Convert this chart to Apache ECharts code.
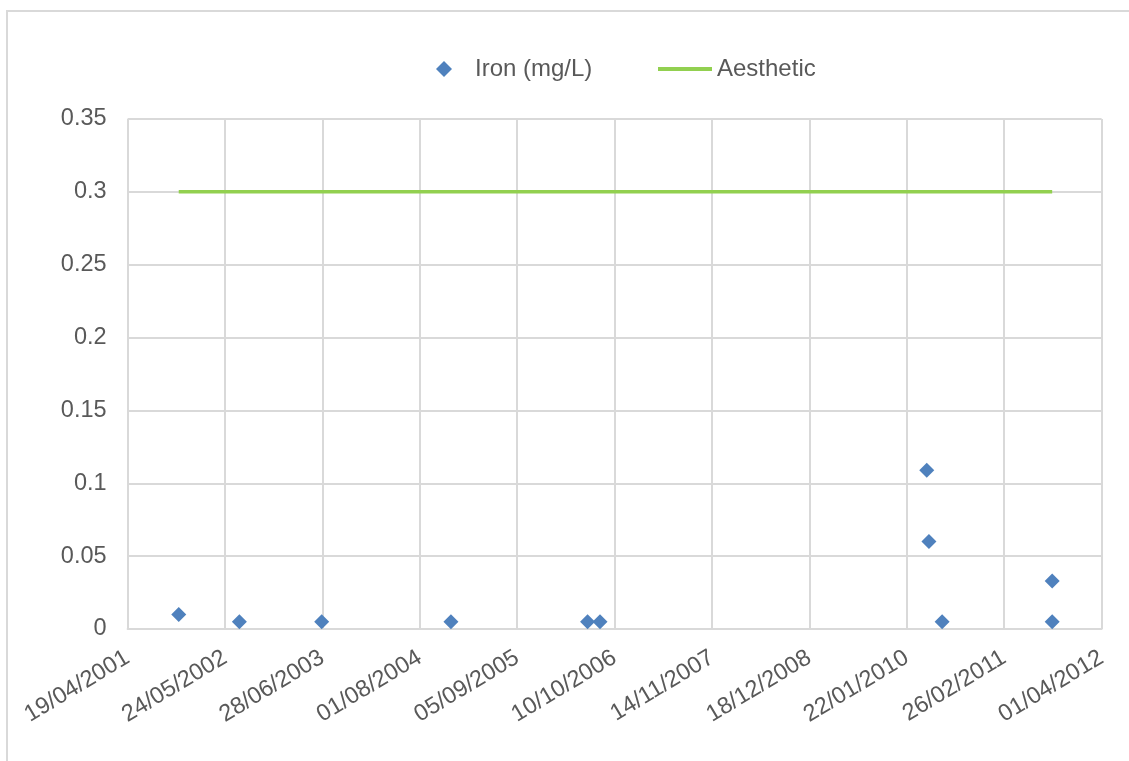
<!DOCTYPE html>
<html>
<head>
<meta charset="utf-8">
<title>Iron (mg/L)</title>
<script src="https://cdn.jsdelivr.net/npm/echarts@6/dist/echarts.min.js"></script>
<style>
  html, body { margin: 0; padding: 0; background: #ffffff; }
  #chart { width: 1129px; height: 761px; }
</style>
</head>
<body>
<div id="chart"></div>
<script>
// Sampling dates and measured iron concentrations
const sampleDates = [
  '2001-11-15', '2002-07-22', '2003-06-25', '2004-12-07', '2006-06-21',
  '2006-08-11', '2010-04-14', '2010-04-23', '2010-06-16', '2011-09-11', '2011-09-11'
];
const ironValues = [0.01, 0.005, 0.005, 0.005, 0.005, 0.005, 0.109, 0.06, 0.005, 0.033, 0.005];

// Aesthetic guideline, drawn across the sampling period
const aestheticDates = ['2001-11-15', '2011-09-11'];
const aestheticValues = [0.3, 0.3];

// Date axis range and spacing of ticks (in days)
const axisStartDate = '2001-04-19';
const axisEndDate = '2012-04-01';
const tickStepDays = 400;

// Value axis
const yMin = 0, yMax = 0.35, yStep = 0.05;

const DAY_MS = 86400000;
function toUTC(s) {
  const p = s.split('-').map(Number);
  return Date.UTC(p[0], p[1] - 1, p[2]);
}
const baseMs = toUTC(axisStartDate);
function dayOffset(s) { return Math.round((toUTC(s) - baseMs) / DAY_MS); }
function pad(n) { return (n < 10 ? '0' : '') + n; }
function formatDay(offset) {
  const d = new Date(baseMs + offset * DAY_MS);
  return pad(d.getUTCDate()) + '/' + pad(d.getUTCMonth() + 1) + '/' + d.getUTCFullYear();
}

const ironData = sampleDates.map((s, i) => [dayOffset(s), ironValues[i]]);
const aestheticData = aestheticDates.map((s, i) => [dayOffset(s), aestheticValues[i]]);

const textColor = '#595959';
const gridColor = '#d9d9d9';
const ironColor = '#4f81bd';
const aestheticColor = '#92d050';
const fontFamily = '"Liberation Sans", Arial, sans-serif';

const chart = echarts.init(document.getElementById('chart'), null, { renderer: 'canvas' });
chart.setOption({
  backgroundColor: '#ffffff',
  animation: false,
  textStyle: { fontFamily: fontFamily, color: textColor },
  graphic: [{
    type: 'rect',
    shape: { x: 7, y: 11, width: 1140, height: 770 },
    style: { fill: 'none', stroke: gridColor, lineWidth: 2 },
    silent: true
  }],
  legend: [
    {
      left: 436,
      top: 57,
      padding: 0,
      itemWidth: 16,
      itemHeight: 16,
      formatter: function (name) { return '{gap|}{t|' + name + '}'; },
      textStyle: {
        fontSize: 24, color: textColor, fontFamily: fontFamily,
        rich: {
          gap: { width: 18, height: 24 },
          t: { fontSize: 24, color: textColor, fontFamily: fontFamily, lineHeight: 24 }
        }
      },
      data: [{ name: 'Iron (mg/L)', icon: 'diamond' }]
    },
    {
      left: 658,
      top: 57,
      padding: 0,
      itemWidth: 54,
      itemHeight: 4,
      textStyle: { fontSize: 24, color: textColor, fontFamily: fontFamily, lineHeight: 24 },
      data: [{ name: 'Aesthetic', icon: 'rect', itemStyle: { color: aestheticColor } }]
    }
  ],
  grid: { left: 127.6, right: 27.4, top: 119, bottom: 132, containLabel: false },
  xAxis: {
    type: 'value',
    min: 0,
    max: dayOffset(axisEndDate),
    interval: tickStepDays,
    axisLine: { show: true, lineStyle: { color: gridColor, width: 2 } },
    axisTick: { show: false },
    splitLine: { show: true, lineStyle: { color: gridColor, width: 2 } },
    axisLabel: {
      rotate: 31,
      margin: 27,
      fontSize: 23.5,
      color: textColor,
      fontFamily: fontFamily,
      formatter: function (v) { return formatDay(v); }
    }
  },
  yAxis: {
    type: 'value',
    min: yMin,
    max: yMax,
    interval: yStep,
    axisLine: { show: false },
    axisTick: { show: false },
    splitLine: { show: true, lineStyle: { color: gridColor, width: 2 } },
    axisLabel: {
      margin: 21,
      fontSize: 23.5,
      color: textColor,
      fontFamily: fontFamily,
      formatter: function (v) { return String(Math.round(v * 100) / 100); }
    }
  },
  series: [
    {
      name: 'Aesthetic',
      type: 'line',
      data: aestheticData,
      symbol: 'none',
      lineStyle: { color: aestheticColor, width: 3.5 },
      itemStyle: { color: aestheticColor },
      z: 2
    },
    {
      name: 'Iron (mg/L)',
      type: 'scatter',
      data: ironData,
      symbol: 'diamond',
      symbolSize: [15, 15],
      itemStyle: { color: ironColor, opacity: 1 },
      z: 3
    }
  ]
});
</script>
</body>
</html>
